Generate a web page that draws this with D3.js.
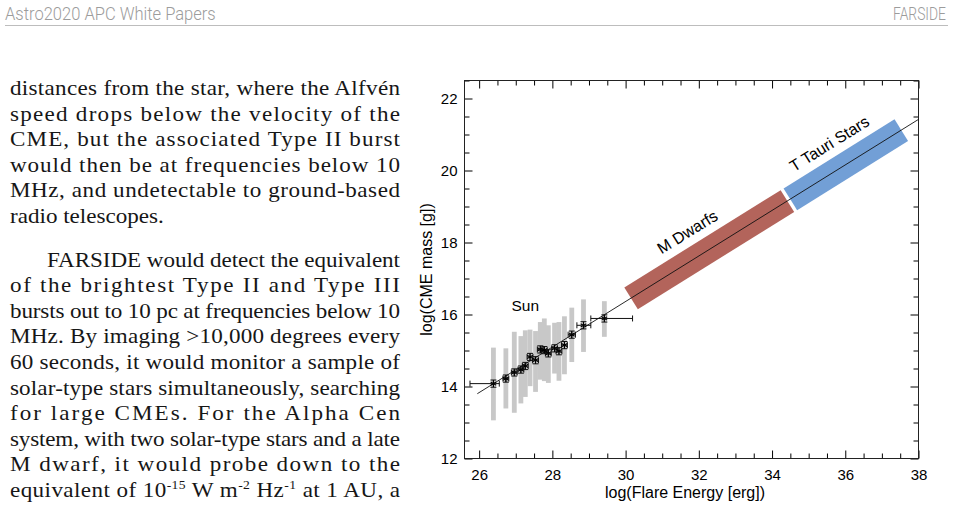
<!DOCTYPE html>
<html>
<head>
<meta charset="utf-8">
<script src="https://cdn.jsdelivr.net/npm/d3@7"></script>
<style>
  body { margin: 0; background: #fff; }
  svg { display: block; }
</style>
</head>
<body>
<script>
// page header
const headerLeft = 'Astro2020 APC White Papers'
const headerRight = 'FARSIDE'

// body text, one entry per printed line (last line of a paragraph is not justified)
const para1 = [
  'distances from the star, where the Alfvén',
  'speed drops below the velocity of the',
  'CME, but the associated Type II burst',
  'would then be at frequencies below 10',
  'MHz, and undetectable to ground-based',
  'radio telescopes.'
]
const para2 = [
  'FARSIDE would detect the equivalent',
  'of the brightest Type II and Type III',
  'bursts out to 10 pc at frequencies below 10',
  'MHz. By imaging >10,000 degrees every',
  '60 seconds, it would monitor a sample of',
  'solar-type stars simultaneously, searching',
  'for large CMEs. For the Alpha Cen',
  'system, with two solar-type stars and a late',
  'M dwarf, it would probe down to the'
]
// last line has superscripts: [text, isSuperscript]
const lastLine = [['equivalent of 10', false], ['-15', true], [' W m', false], ['-2', true],
  [' Hz', false], ['-1', true], [' at 1 AU, a', false]]

// chart: solar events, log flare energy vs log CME mass
const sunE   = [26.39, 26.73, 26.96, 27.14, 27.26, 27.39, 27.54, 27.67, 27.78, 27.89, 28.06, 28.18, 28.33, 28.53, 28.85, 29.42]
const sunM   = [14.08, 14.22, 14.39, 14.47, 14.57, 14.82, 14.73, 15.03, 15.01, 14.92, 15.06, 14.98, 15.15, 15.44, 15.70, 15.89]
const sunELo = [25.75, 26.65, 26.88, 27.06, 27.18, 27.31, 27.46, 27.59, 27.70, 27.81, 27.98, 28.10, 28.25, 28.43, 28.67, 29.05]
const sunEHi = [26.55, 26.81, 27.04, 27.22, 27.34, 27.47, 27.62, 27.75, 27.86, 27.97, 28.14, 28.26, 28.41, 28.63, 29.05, 30.19]
const sunMErr = [0.1, 0.1, 0.1, 0.1, 0.1, 0.1, 0.1, 0.1, 0.1, 0.1, 0.1, 0.1, 0.1, 0.1, 0.1, 0.1]
// spread of CME masses (grey bars)
const sunMLow  = [13.06, 13.39, 13.27, 13.53, 13.71, 14.01, 13.85, 14.19, 14.15, 14.10, 14.36, 14.16, 14.34, 14.68, 14.96, 15.38]
const sunMHigh = [15.08, 15.06, 15.52, 15.40, 15.56, 15.58, 15.54, 15.79, 15.89, 15.70, 15.77, 15.79, 15.95, 16.19, 16.42, 16.37]

// fit line end points
const fitE = [25.95, 38]
const fitM = [13.80, 21.42]

// extrapolated regimes along the fit
const regimes = ['M Dwarfs', 'T Tauri Stars']
const regimeE = [[30.15, 34.42], [34.50, 37.53]]
const regimeM = [[16.45, 19.15], [19.20, 21.12]]
const regimeLabelE = [32.07, 35.95]
const regimeColor = ['#b3645b', '#729fd6']

const xMajor = [26, 28, 30, 32, 34, 36, 38]
const yMajor = [12, 14, 16, 18, 20, 22]
const xMinor = d3.range(26, 38.01, 0.5).filter(v => v % 2 !== 0)
const yMinor = d3.range(12, 22.51, 0.5).filter(v => v % 2 !== 0)

const w = 954
const h = 512

let svg = d3.select('body')
  .append('svg')
  .attr('width', w)
  .attr('height', h)

// header, squeezed horizontally to look like the condensed face
function headerText(str, xPos, anchor, width) {
  let g = svg.append('g')
  let t = g.append('text')
    .attr('text-anchor', anchor)
    .style('font-family', 'Roboto, "Liberation Sans", sans-serif')
    .style('font-size', '18px')
    .style('font-weight', 300)
    .style('fill', '#9c9c9c')
    .text(str)
  let sx = width / t.node().getComputedTextLength()
  g.attr('transform', `translate(${xPos},20) scale(${sx},1)`)
}
headerText(headerLeft, 5, 'start', 211)
headerText(headerRight, 946, 'end', 53)

svg.append('line')
  .attr('x1', 5).attr('x2', 948)
  .attr('y1', 25.5).attr('y2', 25.5)
  .style('stroke', '#bdbdbd')
  .style('stroke-width', 1.2)

// body text
const textLeft = 10
const textRight = 400
const lineStep = 25.6
const paraGap = 18
const firstBase = 95
const indent = 37
const stretch = 1.05   // widen the serif a little toward the original face

const body = svg.append('g')
  .attr('transform', `scale(${stretch},1)`)
  .style('font-family', '"Liberation Serif", "DejaVu Serif", serif')
  .style('font-size', '22px')
  .style('fill', '#161616')

para1.forEach((line, i) => {
  let t = body.append('text')
    .attr('x', textLeft / stretch)
    .attr('y', firstBase + i * lineStep)
    .text(line)
  if (i < para1.length - 1) {
    t.attr('textLength', (textRight - textLeft) / stretch).attr('lengthAdjust', 'spacing')
  }
})

const p2Base = firstBase + para1.length * lineStep + paraGap - lineStep
para2.forEach((line, i) => {
  let x0 = i === 0 ? textLeft + indent : textLeft
  body.append('text')
    .attr('x', x0 / stretch)
    .attr('y', p2Base + (i + 1) * lineStep)
    .attr('textLength', (textRight - x0) / stretch)
    .attr('lengthAdjust', 'spacing')
    .text(line)
})

let last = body.append('text')
  .attr('x', textLeft / stretch)
  .attr('y', p2Base + (para2.length + 1) * lineStep)
  .attr('textLength', (textRight - textLeft) / stretch)
  .attr('lengthAdjust', 'spacing')
lastLine.forEach((part, i) => {
  let prevSup = i > 0 && lastLine[i - 1][1]
  last.append('tspan')
    .attr('dy', part[1] ? -8 : (prevSup ? 8 : 0))
    .style('font-size', part[1] ? '13px' : null)
    .text(part[0])
})

// chart
const x = d3.scaleLinear().domain([25.6, 38]).range([464.5, 918.5])
const y = d3.scaleLinear().domain([12, 22.5]).range([458.5, 80.5])

const chart = svg.append('g')
  .style('font-family', '"Liberation Sans", Arial, sans-serif')

function styleAxis(g) {
  g.select('.domain').remove()
  g.selectAll('.tick line').style('stroke', '#000').style('stroke-width', 1)
  g.selectAll('.tick text').style('font-size', '15px').style('fill', '#000')
  g.attr('font-family', null)
}

chart.append('g')
  .attr('transform', `translate(0,${y(12)})`)
  .call(d3.axisBottom(x).tickValues(xMajor).tickSize(-8).tickPadding(11).tickFormat(d3.format('d')))
  .call(styleAxis)
chart.append('g')
  .attr('transform', `translate(0,${y(12)})`)
  .call(d3.axisBottom(x).tickValues(xMinor).tickSize(-5).tickFormat(''))
  .call(styleAxis)
chart.append('g')
  .attr('transform', `translate(0,${y(22.5)})`)
  .call(d3.axisTop(x).tickValues(xMajor).tickSize(-8).tickFormat(''))
  .call(styleAxis)
chart.append('g')
  .attr('transform', `translate(0,${y(22.5)})`)
  .call(d3.axisTop(x).tickValues(xMinor).tickSize(-5).tickFormat(''))
  .call(styleAxis)

chart.append('g')
  .attr('transform', `translate(${x(25.6)},0)`)
  .call(d3.axisLeft(y).tickValues(yMajor).tickSize(-8).tickPadding(7).tickFormat(d3.format('d')))
  .call(styleAxis)
chart.append('g')
  .attr('transform', `translate(${x(25.6)},0)`)
  .call(d3.axisLeft(y).tickValues(yMinor).tickSize(-5).tickFormat(''))
  .call(styleAxis)
chart.append('g')
  .attr('transform', `translate(${x(38)},0)`)
  .call(d3.axisRight(y).tickValues(yMajor).tickSize(-8).tickFormat(''))
  .call(styleAxis)
chart.append('g')
  .attr('transform', `translate(${x(38)},0)`)
  .call(d3.axisRight(y).tickValues(yMinor).tickSize(-5).tickFormat(''))
  .call(styleAxis)

chart.append('rect')
  .attr('x', x(25.6))
  .attr('y', y(22.5))
  .attr('width', x(38) - x(25.6))
  .attr('height', y(12) - y(22.5))
  .style('fill', 'none')
  .style('stroke', '#222')
  .style('stroke-width', 1)

// axis titles
chart.append('text')
  .attr('transform', `translate(432,${(y(12) + y(22.5)) / 2}) rotate(-90)`)
  .attr('text-anchor', 'middle')
  .style('font-size', '16px')
  .text('log(CME mass [g])')
chart.append('text')
  .attr('x', 685)
  .attr('y', 498)
  .attr('text-anchor', 'middle')
  .style('font-size', '16px')
  .text('log(Flare Energy [erg])')

// grey spread bars
const idx = d3.range(sunE.length)
chart.append('g').selectAll('rect')
  .data(idx)
  .enter()
  .append('rect')
  .attr('x', i => x(sunE[i]) - 2.4)
  .attr('y', i => y(sunMHigh[i]))
  .attr('width', 4.8)
  .attr('height', i => y(sunMLow[i]) - y(sunMHigh[i]))
  .style('fill', '#c8c8c8')

// regime bands
const halfBand = 12.8
regimes.forEach((name, k) => {
  let p0 = [x(regimeE[k][0]), y(regimeM[k][0])]
  let p1 = [x(regimeE[k][1]), y(regimeM[k][1])]
  let len = Math.hypot(p1[0] - p0[0], p1[1] - p0[1])
  let ux = (p1[0] - p0[0]) / len, uy = (p1[1] - p0[1]) / len
  let nx = uy, ny = -ux   // normal pointing up-left
  let corners = [
    [p0[0] + nx * halfBand, p0[1] + ny * halfBand],
    [p1[0] + nx * halfBand, p1[1] + ny * halfBand],
    [p1[0] - nx * halfBand, p1[1] - ny * halfBand],
    [p0[0] - nx * halfBand, p0[1] - ny * halfBand]
  ]
  chart.append('polygon')
    .attr('points', corners.map(c => c.join(',')).join(' '))
    .style('fill', regimeColor[k])

  // label along the band
  let f = (regimeLabelE[k] - regimeE[k][0]) / (regimeE[k][1] - regimeE[k][0])
  let lx = x(regimeLabelE[k])
  let ly = y(regimeM[k][0] + f * (regimeM[k][1] - regimeM[k][0]))
  let ang = Math.atan2(uy, ux) * 180 / Math.PI
  chart.append('text')
    .attr('transform', `translate(${lx + nx * 21},${ly + ny * 21}) rotate(${ang})`)
    .attr('text-anchor', 'middle')
    .style('font-size', '16px')
    .text(name)
})

// fit line
chart.append('line')
  .attr('x1', x(fitE[0])).attr('y1', y(fitM[0]))
  .attr('x2', x(fitE[1])).attr('y2', y(fitM[1]))
  .style('stroke', '#111')
  .style('stroke-width', 0.9)

// error bars and markers
const errs = chart.append('g').style('stroke', '#111').style('stroke-width', 1).style('fill', 'none')
idx.forEach(i => {
  let cx = x(sunE[i]), cy = y(sunM[i])
  let yt = y(sunM[i] + sunMErr[i]), yb = y(sunM[i] - sunMErr[i])
  let xl = x(sunELo[i]), xr = x(sunEHi[i])
  errs.append('path')
    .attr('d', `M${cx},${yt}V${yb}M${cx - 3},${yt}H${cx + 3}M${cx - 3},${yb}H${cx + 3}` +
      `M${xl},${cy}H${xr}M${xl},${cy - 3}V${cy + 3}M${xr},${cy - 3}V${cy + 3}`)
})
chart.append('g').selectAll('path')
  .data(idx)
  .enter()
  .append('path')
  .attr('transform', i => `translate(${x(sunE[i])},${y(sunM[i])})`)
  .attr('d', d3.symbol(d3.symbolAsterisk, 30))
  .style('stroke', '#000')
  .style('stroke-width', 1.1)
  .style('fill', 'none')

chart.append('text')
  .attr('x', x(27.26))
  .attr('y', y(16.11))
  .attr('text-anchor', 'middle')
  .style('font-size', '15.5px')
  .text('Sun')
</script>
</body>
</html>
